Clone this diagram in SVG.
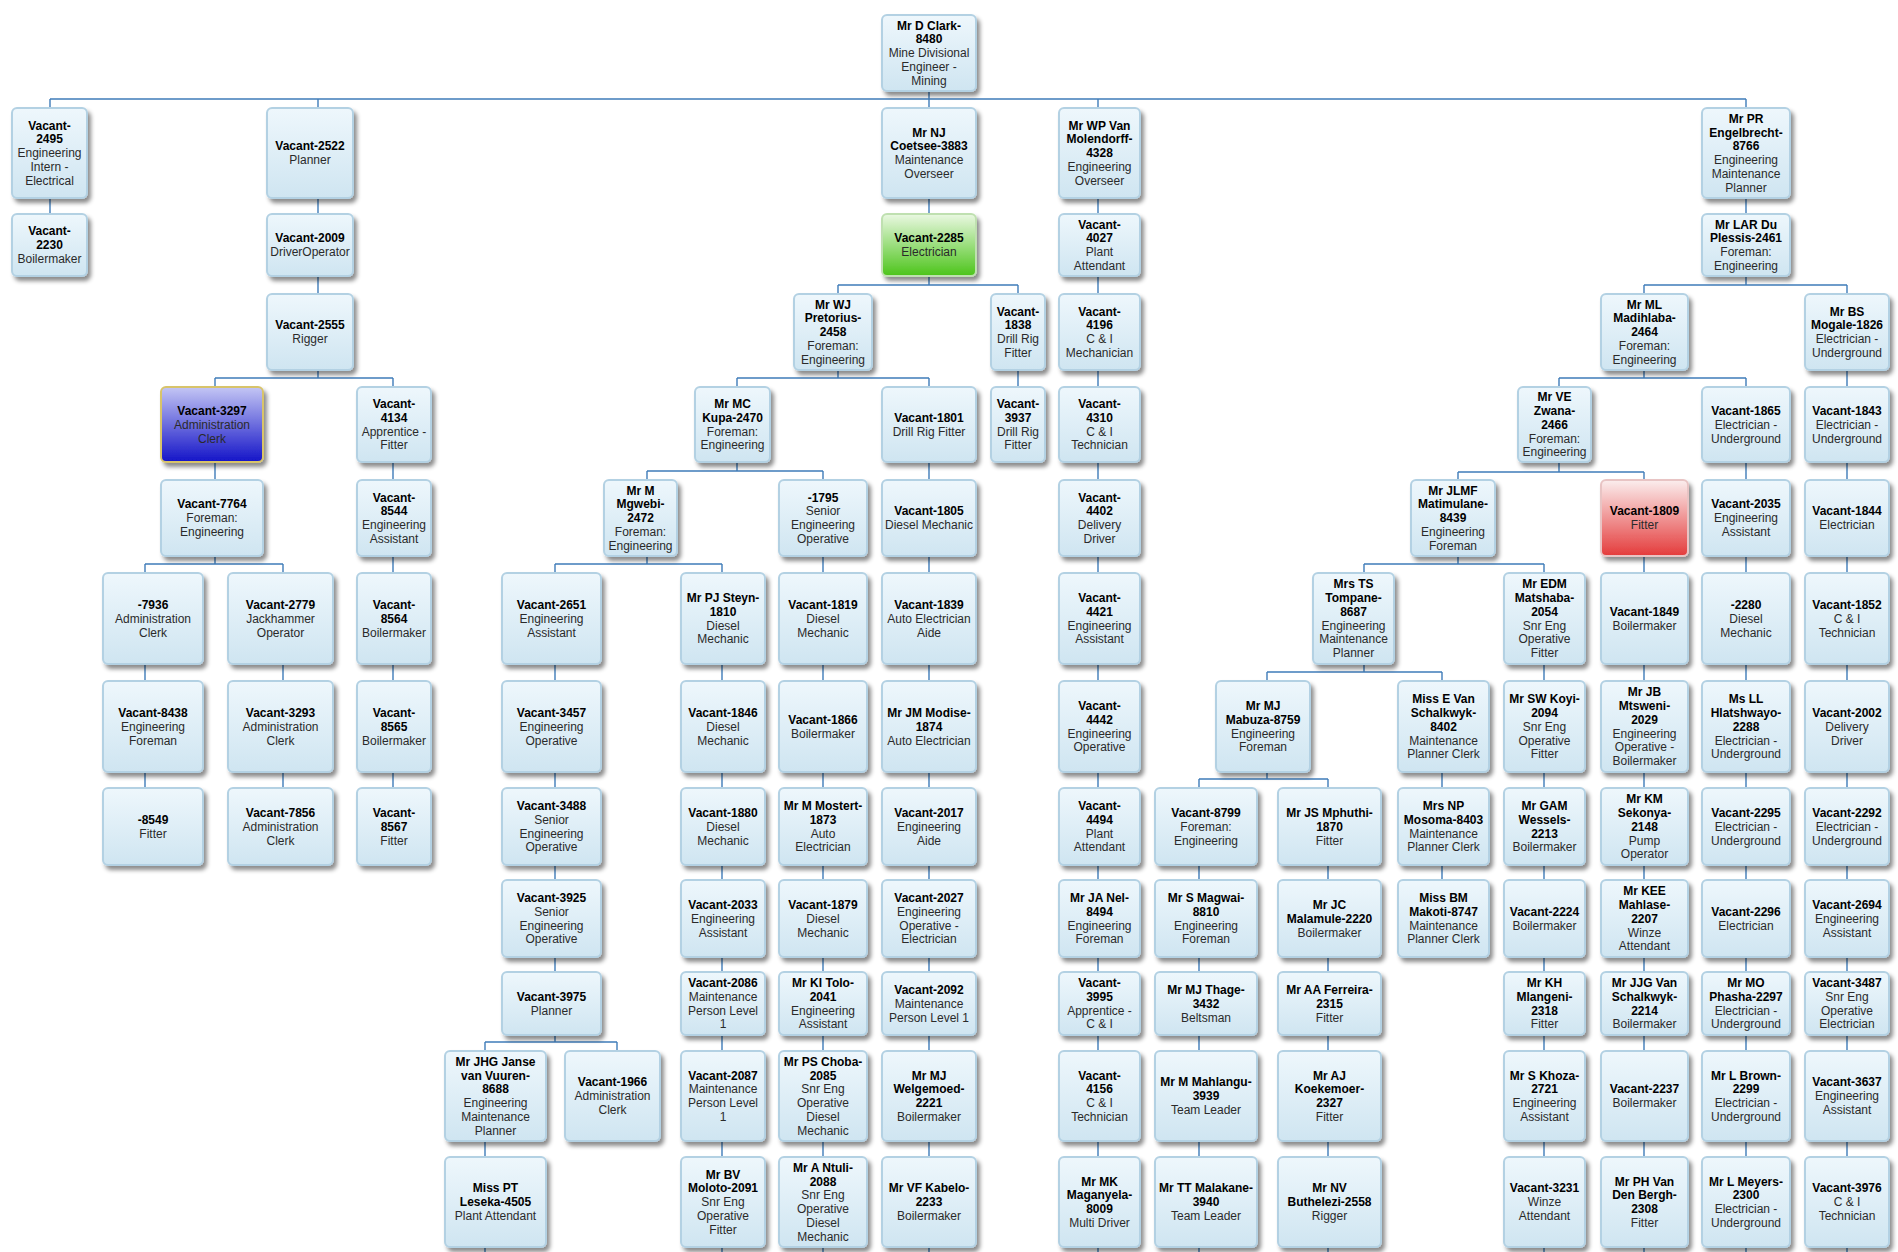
<svg xmlns="http://www.w3.org/2000/svg" width="1898" height="1252" viewBox="0 0 1898 1252">
<defs>
<linearGradient id="gb" x1="0" y1="0" x2="0" y2="1"><stop offset="0" stop-color="#eef7fc"/><stop offset="1" stop-color="#cfe5f1"/></linearGradient>
<linearGradient id="gblue" x1="0" y1="0" x2="0" y2="1"><stop offset="0" stop-color="#c4c6f4"/><stop offset="1" stop-color="#1414c8"/></linearGradient>
<linearGradient id="ggreen" x1="0" y1="0" x2="0" y2="1"><stop offset="0" stop-color="#eaf8e2"/><stop offset="1" stop-color="#4cc41a"/></linearGradient>
<linearGradient id="gred" x1="0" y1="0" x2="0" y2="1"><stop offset="0" stop-color="#fbeeee"/><stop offset="1" stop-color="#e43b3b"/></linearGradient>
<filter id="sh" x="-10%" y="-10%" width="130%" height="130%"><feDropShadow dx="3" dy="4" stdDeviation="2" flood-color="#000" flood-opacity="0.45"/></filter>
</defs>
<style>
.n rect{fill:url(#gb);stroke:#b3d1e3;stroke-width:2;filter:url(#sh)}
.n text{font-family:"Liberation Sans",Arial,sans-serif;font-size:12px;text-anchor:middle;fill:#2a2a2a}
.n .b{font-weight:bold;fill:#000}
#n3297 rect{fill:url(#gblue);stroke:#d8c46a}
#n2285 rect{fill:url(#ggreen);stroke:#bfe0b0}
#n1809 rect{fill:url(#gred);stroke:#e8c4c4}
.c path{stroke:#3f7cb9;stroke-width:1.4;fill:none}
</style>
<rect width="1898" height="1252" fill="#fff"/>
<g class="c"><path d="M929 92V99M50 99H1746M50 99V107M318 99V107M929 99V107M1098 99V107M1746 99V107M50 199V213M318 199V213M318 277V293M318 371V378M215 378H393M215 378V386M393 378V787M215 463V564M145 564H283M145 564V787M283 564V787M929 199V285M838 285H1018M838 285V293M1018 285V386M838 371V378M737 378H929M737 378V386M929 378V1156M737 463V471M647 471H823M647 471V479M823 471V1156M647 557V564M555 564H722M555 564V1042M722 564V1156M485 1042H617M485 1042V1156M617 1042V1050M1098 99V1156M1746 99V285M1644 285H1847M1644 285V293M1847 285V1156M1644 371V378M1559 378H1746M1559 378V386M1746 378V1156M1559 463V472M1458 472H1644M1458 472V479M1644 472V1156M1458 557V564M1364 564H1544M1364 564V572M1544 564V1156M1364 665V672M1267 672H1442M1267 672V680M1442 672V879M1267 773V779M1199 779H1328M1199 779V1156M1328 779V1156M485 1248V1252M722 1248V1252M823 1248V1252M929 1248V1252M1098 1248V1252M1199 1248V1252M1328 1248V1252M1544 1248V1252M1644 1248V1252M1746 1248V1252M1847 1248V1252"/></g>

<g id="n2495" class="n"><rect x="12" y="108" width="75" height="90" rx="5"/><text x="49.5" y="129.6"><tspan class="b">Vacant-</tspan><tspan class="b" x="49.5" dy="13.8">2495</tspan><tspan x="49.5" dy="13.8">Engineering</tspan><tspan x="49.5" dy="13.8">Intern -</tspan><tspan x="49.5" dy="13.8">Electrical</tspan></text></g>
<g id="n2230" class="n"><rect x="12" y="214" width="75" height="62" rx="5"/><text x="49.5" y="235.4"><tspan class="b">Vacant-</tspan><tspan class="b" x="49.5" dy="13.8">2230</tspan><tspan x="49.5" dy="13.8">Boilermaker</tspan></text></g>

<g id="n2522" class="n"><rect x="267" y="108" width="86" height="90" rx="5"/><text x="310" y="150.3"><tspan class="b">Vacant-2522</tspan><tspan x="310" dy="13.8">Planner</tspan></text></g>
<g id="n2009" class="n"><rect x="267" y="214" width="86" height="62" rx="5"/><text x="310" y="242.3"><tspan class="b">Vacant-2009</tspan><tspan x="310" dy="13.8">DriverOperator</tspan></text></g>
<g id="n2555" class="n"><rect x="267" y="294" width="86" height="76" rx="5"/><text x="310" y="329.3"><tspan class="b">Vacant-2555</tspan><tspan x="310" dy="13.8">Rigger</tspan></text></g>
<g id="n3297" class="n"><rect x="161" y="387" width="102" height="75" rx="5"/><text x="212" y="414.9"><tspan class="b">Vacant-3297</tspan><tspan x="212" dy="13.8">Administration</tspan><tspan x="212" dy="13.8">Clerk</tspan></text></g>
<g id="n4134" class="n"><rect x="357" y="387" width="74" height="75" rx="5"/><text x="394" y="408"><tspan class="b">Vacant-</tspan><tspan class="b" x="394" dy="13.8">4134</tspan><tspan x="394" dy="13.8">Apprentice -</tspan><tspan x="394" dy="13.8">Fitter</tspan></text></g>
<g id="n7764" class="n"><rect x="161" y="480" width="102" height="76" rx="5"/><text x="212" y="508.4"><tspan class="b">Vacant-7764</tspan><tspan x="212" dy="13.8">Foreman:</tspan><tspan x="212" dy="13.8">Engineering</tspan></text></g>
<g id="n8544" class="n"><rect x="357" y="480" width="74" height="76" rx="5"/><text x="394" y="501.5"><tspan class="b">Vacant-</tspan><tspan class="b" x="394" dy="13.8">8544</tspan><tspan x="394" dy="13.8">Engineering</tspan><tspan x="394" dy="13.8">Assistant</tspan></text></g>
<g id="n7936" class="n"><rect x="103" y="573" width="100" height="91" rx="5"/><text x="153" y="608.9"><tspan class="b">-7936</tspan><tspan x="153" dy="13.8">Administration</tspan><tspan x="153" dy="13.8">Clerk</tspan></text></g>
<g id="n2779" class="n"><rect x="228" y="573" width="105" height="91" rx="5"/><text x="280.5" y="608.9"><tspan class="b">Vacant-2779</tspan><tspan x="280.5" dy="13.8">Jackhammer</tspan><tspan x="280.5" dy="13.8">Operator</tspan></text></g>
<g id="n8564" class="n"><rect x="357" y="573" width="74" height="91" rx="5"/><text x="394" y="608.9"><tspan class="b">Vacant-</tspan><tspan class="b" x="394" dy="13.8">8564</tspan><tspan x="394" dy="13.8">Boilermaker</tspan></text></g>
<g id="n8438" class="n"><rect x="103" y="681" width="100" height="91" rx="5"/><text x="153" y="716.9"><tspan class="b">Vacant-8438</tspan><tspan x="153" dy="13.8">Engineering</tspan><tspan x="153" dy="13.8">Foreman</tspan></text></g>
<g id="n3293" class="n"><rect x="228" y="681" width="105" height="91" rx="5"/><text x="280.5" y="716.9"><tspan class="b">Vacant-3293</tspan><tspan x="280.5" dy="13.8">Administration</tspan><tspan x="280.5" dy="13.8">Clerk</tspan></text></g>
<g id="n8565" class="n"><rect x="357" y="681" width="74" height="91" rx="5"/><text x="394" y="716.9"><tspan class="b">Vacant-</tspan><tspan class="b" x="394" dy="13.8">8565</tspan><tspan x="394" dy="13.8">Boilermaker</tspan></text></g>
<g id="n8549" class="n"><rect x="103" y="788" width="100" height="77" rx="5"/><text x="153" y="823.8"><tspan class="b">-8549</tspan><tspan x="153" dy="13.8">Fitter</tspan></text></g>
<g id="n7856" class="n"><rect x="228" y="788" width="105" height="77" rx="5"/><text x="280.5" y="816.9"><tspan class="b">Vacant-7856</tspan><tspan x="280.5" dy="13.8">Administration</tspan><tspan x="280.5" dy="13.8">Clerk</tspan></text></g>
<g id="n8567" class="n"><rect x="357" y="788" width="74" height="77" rx="5"/><text x="394" y="816.9"><tspan class="b">Vacant-</tspan><tspan class="b" x="394" dy="13.8">8567</tspan><tspan x="394" dy="13.8">Fitter</tspan></text></g>

<g id="n8480" class="n"><rect x="882" y="15" width="94" height="76" rx="5"/><text x="929" y="29.6"><tspan class="b">Mr D Clark-</tspan><tspan class="b" x="929" dy="13.8">8480</tspan><tspan x="929" dy="13.8">Mine Divisional</tspan><tspan x="929" dy="13.8">Engineer -</tspan><tspan x="929" dy="13.8">Mining</tspan></text></g>
<g id="n3883" class="n"><rect x="882" y="108" width="94" height="90" rx="5"/><text x="929" y="136.5"><tspan class="b">Mr NJ</tspan><tspan class="b" x="929" dy="13.8">Coetsee-3883</tspan><tspan x="929" dy="13.8">Maintenance</tspan><tspan x="929" dy="13.8">Overseer</tspan></text></g>
<g id="n2285" class="n"><rect x="882" y="214" width="94" height="62" rx="5"/><text x="929" y="242.3"><tspan class="b">Vacant-2285</tspan><tspan x="929" dy="13.8">Electrician</tspan></text></g>
<g id="n2458" class="n"><rect x="794" y="294" width="78" height="76" rx="5"/><text x="833" y="308.6"><tspan class="b">Mr WJ</tspan><tspan class="b" x="833" dy="13.8">Pretorius-</tspan><tspan class="b" x="833" dy="13.8">2458</tspan><tspan x="833" dy="13.8">Foreman:</tspan><tspan x="833" dy="13.8">Engineering</tspan></text></g>
<g id="n1838" class="n"><rect x="991" y="294" width="54" height="76" rx="5"/><text x="1018" y="315.5"><tspan class="b">Vacant-</tspan><tspan class="b" x="1018" dy="13.8">1838</tspan><tspan x="1018" dy="13.8">Drill Rig</tspan><tspan x="1018" dy="13.8">Fitter</tspan></text></g>
<g id="n2470" class="n"><rect x="695" y="387" width="75" height="75" rx="5"/><text x="732.5" y="408"><tspan class="b">Mr MC</tspan><tspan class="b" x="732.5" dy="13.8">Kupa-2470</tspan><tspan x="732.5" dy="13.8">Foreman:</tspan><tspan x="732.5" dy="13.8">Engineering</tspan></text></g>
<g id="n1801" class="n"><rect x="882" y="387" width="94" height="75" rx="5"/><text x="929" y="421.8"><tspan class="b">Vacant-1801</tspan><tspan x="929" dy="13.8">Drill Rig Fitter</tspan></text></g>
<g id="n3937" class="n"><rect x="991" y="387" width="54" height="75" rx="5"/><text x="1018" y="408"><tspan class="b">Vacant-</tspan><tspan class="b" x="1018" dy="13.8">3937</tspan><tspan x="1018" dy="13.8">Drill Rig</tspan><tspan x="1018" dy="13.8">Fitter</tspan></text></g>
<g id="n2472" class="n"><rect x="604" y="480" width="73" height="76" rx="5"/><text x="640.5" y="494.6"><tspan class="b">Mr M</tspan><tspan class="b" x="640.5" dy="13.8">Mgwebi-</tspan><tspan class="b" x="640.5" dy="13.8">2472</tspan><tspan x="640.5" dy="13.8">Foreman:</tspan><tspan x="640.5" dy="13.8">Engineering</tspan></text></g>
<g id="n1795" class="n"><rect x="779" y="480" width="88" height="76" rx="5"/><text x="823" y="501.5"><tspan class="b">-1795</tspan><tspan x="823" dy="13.8">Senior</tspan><tspan x="823" dy="13.8">Engineering</tspan><tspan x="823" dy="13.8">Operative</tspan></text></g>
<g id="n1805" class="n"><rect x="882" y="480" width="94" height="76" rx="5"/><text x="929" y="515.3"><tspan class="b">Vacant-1805</tspan><tspan x="929" dy="13.8">Diesel Mechanic</tspan></text></g>
<g id="n2651" class="n"><rect x="502" y="573" width="99" height="91" rx="5"/><text x="551.5" y="608.9"><tspan class="b">Vacant-2651</tspan><tspan x="551.5" dy="13.8">Engineering</tspan><tspan x="551.5" dy="13.8">Assistant</tspan></text></g>
<g id="n1810" class="n"><rect x="681" y="573" width="84" height="91" rx="5"/><text x="723" y="602"><tspan class="b">Mr PJ Steyn-</tspan><tspan class="b" x="723" dy="13.8">1810</tspan><tspan x="723" dy="13.8">Diesel</tspan><tspan x="723" dy="13.8">Mechanic</tspan></text></g>
<g id="n1819" class="n"><rect x="779" y="573" width="88" height="91" rx="5"/><text x="823" y="608.9"><tspan class="b">Vacant-1819</tspan><tspan x="823" dy="13.8">Diesel</tspan><tspan x="823" dy="13.8">Mechanic</tspan></text></g>
<g id="n1839" class="n"><rect x="882" y="573" width="94" height="91" rx="5"/><text x="929" y="608.9"><tspan class="b">Vacant-1839</tspan><tspan x="929" dy="13.8">Auto Electrician</tspan><tspan x="929" dy="13.8">Aide</tspan></text></g>
<g id="n3457" class="n"><rect x="502" y="681" width="99" height="91" rx="5"/><text x="551.5" y="716.9"><tspan class="b">Vacant-3457</tspan><tspan x="551.5" dy="13.8">Engineering</tspan><tspan x="551.5" dy="13.8">Operative</tspan></text></g>
<g id="n1846" class="n"><rect x="681" y="681" width="84" height="91" rx="5"/><text x="723" y="716.9"><tspan class="b">Vacant-1846</tspan><tspan x="723" dy="13.8">Diesel</tspan><tspan x="723" dy="13.8">Mechanic</tspan></text></g>
<g id="n1866" class="n"><rect x="779" y="681" width="88" height="91" rx="5"/><text x="823" y="723.8"><tspan class="b">Vacant-1866</tspan><tspan x="823" dy="13.8">Boilermaker</tspan></text></g>
<g id="n1874" class="n"><rect x="882" y="681" width="94" height="91" rx="5"/><text x="929" y="716.9"><tspan class="b">Mr JM Modise-</tspan><tspan class="b" x="929" dy="13.8">1874</tspan><tspan x="929" dy="13.8">Auto Electrician</tspan></text></g>
<g id="n3488" class="n"><rect x="502" y="788" width="99" height="77" rx="5"/><text x="551.5" y="810"><tspan class="b">Vacant-3488</tspan><tspan x="551.5" dy="13.8">Senior</tspan><tspan x="551.5" dy="13.8">Engineering</tspan><tspan x="551.5" dy="13.8">Operative</tspan></text></g>
<g id="n1880" class="n"><rect x="681" y="788" width="84" height="77" rx="5"/><text x="723" y="816.9"><tspan class="b">Vacant-1880</tspan><tspan x="723" dy="13.8">Diesel</tspan><tspan x="723" dy="13.8">Mechanic</tspan></text></g>
<g id="n1873" class="n"><rect x="779" y="788" width="88" height="77" rx="5"/><text x="823" y="810"><tspan class="b">Mr M Mostert-</tspan><tspan class="b" x="823" dy="13.8">1873</tspan><tspan x="823" dy="13.8">Auto</tspan><tspan x="823" dy="13.8">Electrician</tspan></text></g>
<g id="n2017" class="n"><rect x="882" y="788" width="94" height="77" rx="5"/><text x="929" y="816.9"><tspan class="b">Vacant-2017</tspan><tspan x="929" dy="13.8">Engineering</tspan><tspan x="929" dy="13.8">Aide</tspan></text></g>
<g id="n3925" class="n"><rect x="502" y="880" width="99" height="77" rx="5"/><text x="551.5" y="902"><tspan class="b">Vacant-3925</tspan><tspan x="551.5" dy="13.8">Senior</tspan><tspan x="551.5" dy="13.8">Engineering</tspan><tspan x="551.5" dy="13.8">Operative</tspan></text></g>
<g id="n2033" class="n"><rect x="681" y="880" width="84" height="77" rx="5"/><text x="723" y="908.9"><tspan class="b">Vacant-2033</tspan><tspan x="723" dy="13.8">Engineering</tspan><tspan x="723" dy="13.8">Assistant</tspan></text></g>
<g id="n1879" class="n"><rect x="779" y="880" width="88" height="77" rx="5"/><text x="823" y="908.9"><tspan class="b">Vacant-1879</tspan><tspan x="823" dy="13.8">Diesel</tspan><tspan x="823" dy="13.8">Mechanic</tspan></text></g>
<g id="n2027" class="n"><rect x="882" y="880" width="94" height="77" rx="5"/><text x="929" y="902"><tspan class="b">Vacant-2027</tspan><tspan x="929" dy="13.8">Engineering</tspan><tspan x="929" dy="13.8">Operative -</tspan><tspan x="929" dy="13.8">Electrician</tspan></text></g>
<g id="n3975" class="n"><rect x="502" y="972" width="99" height="63" rx="5"/><text x="551.5" y="1000.8"><tspan class="b">Vacant-3975</tspan><tspan x="551.5" dy="13.8">Planner</tspan></text></g>
<g id="n2086" class="n"><rect x="681" y="972" width="84" height="63" rx="5"/><text x="723" y="987"><tspan class="b">Vacant-2086</tspan><tspan x="723" dy="13.8">Maintenance</tspan><tspan x="723" dy="13.8">Person Level</tspan><tspan x="723" dy="13.8">1</tspan></text></g>
<g id="n2041" class="n"><rect x="779" y="972" width="88" height="63" rx="5"/><text x="823" y="987"><tspan class="b">Mr KI Tolo-</tspan><tspan class="b" x="823" dy="13.8">2041</tspan><tspan x="823" dy="13.8">Engineering</tspan><tspan x="823" dy="13.8">Assistant</tspan></text></g>
<g id="n2092" class="n"><rect x="882" y="972" width="94" height="63" rx="5"/><text x="929" y="993.9"><tspan class="b">Vacant-2092</tspan><tspan x="929" dy="13.8">Maintenance</tspan><tspan x="929" dy="13.8">Person Level 1</tspan></text></g>
<g id="n8688" class="n"><rect x="445" y="1051" width="101" height="90" rx="5"/><text x="495.5" y="1065.7"><tspan class="b">Mr JHG Janse</tspan><tspan class="b" x="495.5" dy="13.8">van Vuuren-</tspan><tspan class="b" x="495.5" dy="13.8">8688</tspan><tspan x="495.5" dy="13.8">Engineering</tspan><tspan x="495.5" dy="13.8">Maintenance</tspan><tspan x="495.5" dy="13.8">Planner</tspan></text></g>
<g id="n1966" class="n"><rect x="565" y="1051" width="95" height="90" rx="5"/><text x="612.5" y="1086.4"><tspan class="b">Vacant-1966</tspan><tspan x="612.5" dy="13.8">Administration</tspan><tspan x="612.5" dy="13.8">Clerk</tspan></text></g>
<g id="n2087" class="n"><rect x="681" y="1051" width="84" height="90" rx="5"/><text x="723" y="1079.5"><tspan class="b">Vacant-2087</tspan><tspan x="723" dy="13.8">Maintenance</tspan><tspan x="723" dy="13.8">Person Level</tspan><tspan x="723" dy="13.8">1</tspan></text></g>
<g id="n2085" class="n"><rect x="779" y="1051" width="88" height="90" rx="5"/><text x="823" y="1065.7"><tspan class="b">Mr PS Choba-</tspan><tspan class="b" x="823" dy="13.8">2085</tspan><tspan x="823" dy="13.8">Snr Eng</tspan><tspan x="823" dy="13.8">Operative</tspan><tspan x="823" dy="13.8">Diesel</tspan><tspan x="823" dy="13.8">Mechanic</tspan></text></g>
<g id="n2221" class="n"><rect x="882" y="1051" width="94" height="90" rx="5"/><text x="929" y="1079.5"><tspan class="b">Mr MJ</tspan><tspan class="b" x="929" dy="13.8">Welgemoed-</tspan><tspan class="b" x="929" dy="13.8">2221</tspan><tspan x="929" dy="13.8">Boilermaker</tspan></text></g>
<g id="n4505" class="n"><rect x="445" y="1157" width="101" height="90" rx="5"/><text x="495.5" y="1192.4"><tspan class="b">Miss PT</tspan><tspan class="b" x="495.5" dy="13.8">Leseka-4505</tspan><tspan x="495.5" dy="13.8">Plant Attendant</tspan></text></g>
<g id="n2091" class="n"><rect x="681" y="1157" width="84" height="90" rx="5"/><text x="723" y="1178.6"><tspan class="b">Mr BV</tspan><tspan class="b" x="723" dy="13.8">Moloto-2091</tspan><tspan x="723" dy="13.8">Snr Eng</tspan><tspan x="723" dy="13.8">Operative</tspan><tspan x="723" dy="13.8">Fitter</tspan></text></g>
<g id="n2088" class="n"><rect x="779" y="1157" width="88" height="90" rx="5"/><text x="823" y="1171.7"><tspan class="b">Mr A Ntuli-</tspan><tspan class="b" x="823" dy="13.8">2088</tspan><tspan x="823" dy="13.8">Snr Eng</tspan><tspan x="823" dy="13.8">Operative</tspan><tspan x="823" dy="13.8">Diesel</tspan><tspan x="823" dy="13.8">Mechanic</tspan></text></g>
<g id="n2233" class="n"><rect x="882" y="1157" width="94" height="90" rx="5"/><text x="929" y="1192.4"><tspan class="b">Mr VF Kabelo-</tspan><tspan class="b" x="929" dy="13.8">2233</tspan><tspan x="929" dy="13.8">Boilermaker</tspan></text></g>

<g id="n4328" class="n"><rect x="1059" y="108" width="81" height="90" rx="5"/><text x="1099.5" y="129.6"><tspan class="b">Mr WP Van</tspan><tspan class="b" x="1099.5" dy="13.8">Molendorff-</tspan><tspan class="b" x="1099.5" dy="13.8">4328</tspan><tspan x="1099.5" dy="13.8">Engineering</tspan><tspan x="1099.5" dy="13.8">Overseer</tspan></text></g>
<g id="n4027" class="n"><rect x="1059" y="214" width="81" height="62" rx="5"/><text x="1099.5" y="228.5"><tspan class="b">Vacant-</tspan><tspan class="b" x="1099.5" dy="13.8">4027</tspan><tspan x="1099.5" dy="13.8">Plant</tspan><tspan x="1099.5" dy="13.8">Attendant</tspan></text></g>
<g id="n4196" class="n"><rect x="1059" y="294" width="81" height="76" rx="5"/><text x="1099.5" y="315.5"><tspan class="b">Vacant-</tspan><tspan class="b" x="1099.5" dy="13.8">4196</tspan><tspan x="1099.5" dy="13.8">C &amp; I</tspan><tspan x="1099.5" dy="13.8">Mechanician</tspan></text></g>
<g id="n4310" class="n"><rect x="1059" y="387" width="81" height="75" rx="5"/><text x="1099.5" y="408"><tspan class="b">Vacant-</tspan><tspan class="b" x="1099.5" dy="13.8">4310</tspan><tspan x="1099.5" dy="13.8">C &amp; I</tspan><tspan x="1099.5" dy="13.8">Technician</tspan></text></g>
<g id="n4402" class="n"><rect x="1059" y="480" width="81" height="76" rx="5"/><text x="1099.5" y="501.5"><tspan class="b">Vacant-</tspan><tspan class="b" x="1099.5" dy="13.8">4402</tspan><tspan x="1099.5" dy="13.8">Delivery</tspan><tspan x="1099.5" dy="13.8">Driver</tspan></text></g>
<g id="n4421" class="n"><rect x="1059" y="573" width="81" height="91" rx="5"/><text x="1099.5" y="602"><tspan class="b">Vacant-</tspan><tspan class="b" x="1099.5" dy="13.8">4421</tspan><tspan x="1099.5" dy="13.8">Engineering</tspan><tspan x="1099.5" dy="13.8">Assistant</tspan></text></g>
<g id="n4442" class="n"><rect x="1059" y="681" width="81" height="91" rx="5"/><text x="1099.5" y="710"><tspan class="b">Vacant-</tspan><tspan class="b" x="1099.5" dy="13.8">4442</tspan><tspan x="1099.5" dy="13.8">Engineering</tspan><tspan x="1099.5" dy="13.8">Operative</tspan></text></g>
<g id="n4494" class="n"><rect x="1059" y="788" width="81" height="77" rx="5"/><text x="1099.5" y="810"><tspan class="b">Vacant-</tspan><tspan class="b" x="1099.5" dy="13.8">4494</tspan><tspan x="1099.5" dy="13.8">Plant</tspan><tspan x="1099.5" dy="13.8">Attendant</tspan></text></g>
<g id="n8494" class="n"><rect x="1059" y="880" width="81" height="77" rx="5"/><text x="1099.5" y="902"><tspan class="b">Mr JA Nel-</tspan><tspan class="b" x="1099.5" dy="13.8">8494</tspan><tspan x="1099.5" dy="13.8">Engineering</tspan><tspan x="1099.5" dy="13.8">Foreman</tspan></text></g>
<g id="n3995" class="n"><rect x="1059" y="972" width="81" height="63" rx="5"/><text x="1099.5" y="987"><tspan class="b">Vacant-</tspan><tspan class="b" x="1099.5" dy="13.8">3995</tspan><tspan x="1099.5" dy="13.8">Apprentice -</tspan><tspan x="1099.5" dy="13.8">C &amp; I</tspan></text></g>
<g id="n4156" class="n"><rect x="1059" y="1051" width="81" height="90" rx="5"/><text x="1099.5" y="1079.5"><tspan class="b">Vacant-</tspan><tspan class="b" x="1099.5" dy="13.8">4156</tspan><tspan x="1099.5" dy="13.8">C &amp; I</tspan><tspan x="1099.5" dy="13.8">Technician</tspan></text></g>
<g id="n8009" class="n"><rect x="1059" y="1157" width="81" height="90" rx="5"/><text x="1099.5" y="1185.5"><tspan class="b">Mr MK</tspan><tspan class="b" x="1099.5" dy="13.8">Maganyela-</tspan><tspan class="b" x="1099.5" dy="13.8">8009</tspan><tspan x="1099.5" dy="13.8">Multi Driver</tspan></text></g>

<g id="n8766" class="n"><rect x="1702" y="108" width="88" height="90" rx="5"/><text x="1746" y="122.7"><tspan class="b">Mr PR</tspan><tspan class="b" x="1746" dy="13.8">Engelbrecht-</tspan><tspan class="b" x="1746" dy="13.8">8766</tspan><tspan x="1746" dy="13.8">Engineering</tspan><tspan x="1746" dy="13.8">Maintenance</tspan><tspan x="1746" dy="13.8">Planner</tspan></text></g>
<g id="n2461" class="n"><rect x="1702" y="214" width="88" height="62" rx="5"/><text x="1746" y="228.5"><tspan class="b">Mr LAR Du</tspan><tspan class="b" x="1746" dy="13.8">Plessis-2461</tspan><tspan x="1746" dy="13.8">Foreman:</tspan><tspan x="1746" dy="13.8">Engineering</tspan></text></g>
<g id="n2464" class="n"><rect x="1601" y="294" width="87" height="76" rx="5"/><text x="1644.5" y="308.6"><tspan class="b">Mr ML</tspan><tspan class="b" x="1644.5" dy="13.8">Madihlaba-</tspan><tspan class="b" x="1644.5" dy="13.8">2464</tspan><tspan x="1644.5" dy="13.8">Foreman:</tspan><tspan x="1644.5" dy="13.8">Engineering</tspan></text></g>
<g id="n1826" class="n"><rect x="1805" y="294" width="84" height="76" rx="5"/><text x="1847" y="315.5"><tspan class="b">Mr BS</tspan><tspan class="b" x="1847" dy="13.8">Mogale-1826</tspan><tspan x="1847" dy="13.8">Electrician -</tspan><tspan x="1847" dy="13.8">Underground</tspan></text></g>
<g id="n2466" class="n"><rect x="1518" y="387" width="73" height="75" rx="5"/><text x="1554.5" y="401.1"><tspan class="b">Mr VE</tspan><tspan class="b" x="1554.5" dy="13.8">Zwana-</tspan><tspan class="b" x="1554.5" dy="13.8">2466</tspan><tspan x="1554.5" dy="13.8">Foreman:</tspan><tspan x="1554.5" dy="13.8">Engineering</tspan></text></g>
<g id="n1865" class="n"><rect x="1702" y="387" width="88" height="75" rx="5"/><text x="1746" y="414.9"><tspan class="b">Vacant-1865</tspan><tspan x="1746" dy="13.8">Electrician -</tspan><tspan x="1746" dy="13.8">Underground</tspan></text></g>
<g id="n1843" class="n"><rect x="1805" y="387" width="84" height="75" rx="5"/><text x="1847" y="414.9"><tspan class="b">Vacant-1843</tspan><tspan x="1847" dy="13.8">Electrician -</tspan><tspan x="1847" dy="13.8">Underground</tspan></text></g>
<g id="n8439" class="n"><rect x="1411" y="480" width="84" height="76" rx="5"/><text x="1453" y="494.6"><tspan class="b">Mr JLMF</tspan><tspan class="b" x="1453" dy="13.8">Matimulane-</tspan><tspan class="b" x="1453" dy="13.8">8439</tspan><tspan x="1453" dy="13.8">Engineering</tspan><tspan x="1453" dy="13.8">Foreman</tspan></text></g>
<g id="n1809" class="n"><rect x="1601" y="480" width="87" height="76" rx="5"/><text x="1644.5" y="515.3"><tspan class="b">Vacant-1809</tspan><tspan x="1644.5" dy="13.8">Fitter</tspan></text></g>
<g id="n2035" class="n"><rect x="1702" y="480" width="88" height="76" rx="5"/><text x="1746" y="508.4"><tspan class="b">Vacant-2035</tspan><tspan x="1746" dy="13.8">Engineering</tspan><tspan x="1746" dy="13.8">Assistant</tspan></text></g>
<g id="n1844" class="n"><rect x="1805" y="480" width="84" height="76" rx="5"/><text x="1847" y="515.3"><tspan class="b">Vacant-1844</tspan><tspan x="1847" dy="13.8">Electrician</tspan></text></g>
<g id="n8687" class="n"><rect x="1313" y="573" width="81" height="91" rx="5"/><text x="1353.5" y="588.2"><tspan class="b">Mrs TS</tspan><tspan class="b" x="1353.5" dy="13.8">Tompane-</tspan><tspan class="b" x="1353.5" dy="13.8">8687</tspan><tspan x="1353.5" dy="13.8">Engineering</tspan><tspan x="1353.5" dy="13.8">Maintenance</tspan><tspan x="1353.5" dy="13.8">Planner</tspan></text></g>
<g id="n2054" class="n"><rect x="1504" y="573" width="81" height="91" rx="5"/><text x="1544.5" y="588.2"><tspan class="b">Mr EDM</tspan><tspan class="b" x="1544.5" dy="13.8">Matshaba-</tspan><tspan class="b" x="1544.5" dy="13.8">2054</tspan><tspan x="1544.5" dy="13.8">Snr Eng</tspan><tspan x="1544.5" dy="13.8">Operative</tspan><tspan x="1544.5" dy="13.8">Fitter</tspan></text></g>
<g id="n1849" class="n"><rect x="1601" y="573" width="87" height="91" rx="5"/><text x="1644.5" y="615.8"><tspan class="b">Vacant-1849</tspan><tspan x="1644.5" dy="13.8">Boilermaker</tspan></text></g>
<g id="n2280" class="n"><rect x="1702" y="573" width="88" height="91" rx="5"/><text x="1746" y="608.9"><tspan class="b">-2280</tspan><tspan x="1746" dy="13.8">Diesel</tspan><tspan x="1746" dy="13.8">Mechanic</tspan></text></g>
<g id="n1852" class="n"><rect x="1805" y="573" width="84" height="91" rx="5"/><text x="1847" y="608.9"><tspan class="b">Vacant-1852</tspan><tspan x="1847" dy="13.8">C &amp; I</tspan><tspan x="1847" dy="13.8">Technician</tspan></text></g>
<g id="n8759" class="n"><rect x="1216" y="681" width="94" height="91" rx="5"/><text x="1263" y="710"><tspan class="b">Mr MJ</tspan><tspan class="b" x="1263" dy="13.8">Mabuza-8759</tspan><tspan x="1263" dy="13.8">Engineering</tspan><tspan x="1263" dy="13.8">Foreman</tspan></text></g>
<g id="n8402" class="n"><rect x="1398" y="681" width="91" height="91" rx="5"/><text x="1443.5" y="703.1"><tspan class="b">Miss E Van</tspan><tspan class="b" x="1443.5" dy="13.8">Schalkwyk-</tspan><tspan class="b" x="1443.5" dy="13.8">8402</tspan><tspan x="1443.5" dy="13.8">Maintenance</tspan><tspan x="1443.5" dy="13.8">Planner Clerk</tspan></text></g>
<g id="n2094" class="n"><rect x="1504" y="681" width="81" height="91" rx="5"/><text x="1544.5" y="703.1"><tspan class="b">Mr SW Koyi-</tspan><tspan class="b" x="1544.5" dy="13.8">2094</tspan><tspan x="1544.5" dy="13.8">Snr Eng</tspan><tspan x="1544.5" dy="13.8">Operative</tspan><tspan x="1544.5" dy="13.8">Fitter</tspan></text></g>
<g id="n2029" class="n"><rect x="1601" y="681" width="87" height="91" rx="5"/><text x="1644.5" y="696.2"><tspan class="b">Mr JB</tspan><tspan class="b" x="1644.5" dy="13.8">Mtsweni-</tspan><tspan class="b" x="1644.5" dy="13.8">2029</tspan><tspan x="1644.5" dy="13.8">Engineering</tspan><tspan x="1644.5" dy="13.8">Operative -</tspan><tspan x="1644.5" dy="13.8">Boilermaker</tspan></text></g>
<g id="n2288" class="n"><rect x="1702" y="681" width="88" height="91" rx="5"/><text x="1746" y="703.1"><tspan class="b">Ms LL</tspan><tspan class="b" x="1746" dy="13.8">Hlatshwayo-</tspan><tspan class="b" x="1746" dy="13.8">2288</tspan><tspan x="1746" dy="13.8">Electrician -</tspan><tspan x="1746" dy="13.8">Underground</tspan></text></g>
<g id="n2002" class="n"><rect x="1805" y="681" width="84" height="91" rx="5"/><text x="1847" y="716.9"><tspan class="b">Vacant-2002</tspan><tspan x="1847" dy="13.8">Delivery</tspan><tspan x="1847" dy="13.8">Driver</tspan></text></g>
<g id="n8799" class="n"><rect x="1155" y="788" width="102" height="77" rx="5"/><text x="1206" y="816.9"><tspan class="b">Vacant-8799</tspan><tspan x="1206" dy="13.8">Foreman:</tspan><tspan x="1206" dy="13.8">Engineering</tspan></text></g>
<g id="n1870" class="n"><rect x="1278" y="788" width="103" height="77" rx="5"/><text x="1329.5" y="816.9"><tspan class="b">Mr JS Mphuthi-</tspan><tspan class="b" x="1329.5" dy="13.8">1870</tspan><tspan x="1329.5" dy="13.8">Fitter</tspan></text></g>
<g id="n8403" class="n"><rect x="1398" y="788" width="91" height="77" rx="5"/><text x="1443.5" y="810"><tspan class="b">Mrs NP</tspan><tspan class="b" x="1443.5" dy="13.8">Mosoma-8403</tspan><tspan x="1443.5" dy="13.8">Maintenance</tspan><tspan x="1443.5" dy="13.8">Planner Clerk</tspan></text></g>
<g id="n2213" class="n"><rect x="1504" y="788" width="81" height="77" rx="5"/><text x="1544.5" y="810"><tspan class="b">Mr GAM</tspan><tspan class="b" x="1544.5" dy="13.8">Wessels-</tspan><tspan class="b" x="1544.5" dy="13.8">2213</tspan><tspan x="1544.5" dy="13.8">Boilermaker</tspan></text></g>
<g id="n2148" class="n"><rect x="1601" y="788" width="87" height="77" rx="5"/><text x="1644.5" y="803.1"><tspan class="b">Mr KM</tspan><tspan class="b" x="1644.5" dy="13.8">Sekonya-</tspan><tspan class="b" x="1644.5" dy="13.8">2148</tspan><tspan x="1644.5" dy="13.8">Pump</tspan><tspan x="1644.5" dy="13.8">Operator</tspan></text></g>
<g id="n2295" class="n"><rect x="1702" y="788" width="88" height="77" rx="5"/><text x="1746" y="816.9"><tspan class="b">Vacant-2295</tspan><tspan x="1746" dy="13.8">Electrician -</tspan><tspan x="1746" dy="13.8">Underground</tspan></text></g>
<g id="n2292" class="n"><rect x="1805" y="788" width="84" height="77" rx="5"/><text x="1847" y="816.9"><tspan class="b">Vacant-2292</tspan><tspan x="1847" dy="13.8">Electrician -</tspan><tspan x="1847" dy="13.8">Underground</tspan></text></g>
<g id="n8810" class="n"><rect x="1155" y="880" width="102" height="77" rx="5"/><text x="1206" y="902"><tspan class="b">Mr S Magwai-</tspan><tspan class="b" x="1206" dy="13.8">8810</tspan><tspan x="1206" dy="13.8">Engineering</tspan><tspan x="1206" dy="13.8">Foreman</tspan></text></g>
<g id="n2220" class="n"><rect x="1278" y="880" width="103" height="77" rx="5"/><text x="1329.5" y="908.9"><tspan class="b">Mr JC</tspan><tspan class="b" x="1329.5" dy="13.8">Malamule-2220</tspan><tspan x="1329.5" dy="13.8">Boilermaker</tspan></text></g>
<g id="n8747" class="n"><rect x="1398" y="880" width="91" height="77" rx="5"/><text x="1443.5" y="902"><tspan class="b">Miss BM</tspan><tspan class="b" x="1443.5" dy="13.8">Makoti-8747</tspan><tspan x="1443.5" dy="13.8">Maintenance</tspan><tspan x="1443.5" dy="13.8">Planner Clerk</tspan></text></g>
<g id="n2224" class="n"><rect x="1504" y="880" width="81" height="77" rx="5"/><text x="1544.5" y="915.8"><tspan class="b">Vacant-2224</tspan><tspan x="1544.5" dy="13.8">Boilermaker</tspan></text></g>
<g id="n2207" class="n"><rect x="1601" y="880" width="87" height="77" rx="5"/><text x="1644.5" y="895.1"><tspan class="b">Mr KEE</tspan><tspan class="b" x="1644.5" dy="13.8">Mahlase-</tspan><tspan class="b" x="1644.5" dy="13.8">2207</tspan><tspan x="1644.5" dy="13.8">Winze</tspan><tspan x="1644.5" dy="13.8">Attendant</tspan></text></g>
<g id="n2296" class="n"><rect x="1702" y="880" width="88" height="77" rx="5"/><text x="1746" y="915.8"><tspan class="b">Vacant-2296</tspan><tspan x="1746" dy="13.8">Electrician</tspan></text></g>
<g id="n2694" class="n"><rect x="1805" y="880" width="84" height="77" rx="5"/><text x="1847" y="908.9"><tspan class="b">Vacant-2694</tspan><tspan x="1847" dy="13.8">Engineering</tspan><tspan x="1847" dy="13.8">Assistant</tspan></text></g>
<g id="n3432" class="n"><rect x="1155" y="972" width="102" height="63" rx="5"/><text x="1206" y="993.9"><tspan class="b">Mr MJ Thage-</tspan><tspan class="b" x="1206" dy="13.8">3432</tspan><tspan x="1206" dy="13.8">Beltsman</tspan></text></g>
<g id="n2315" class="n"><rect x="1278" y="972" width="103" height="63" rx="5"/><text x="1329.5" y="993.9"><tspan class="b">Mr AA Ferreira-</tspan><tspan class="b" x="1329.5" dy="13.8">2315</tspan><tspan x="1329.5" dy="13.8">Fitter</tspan></text></g>
<g id="n2318" class="n"><rect x="1504" y="972" width="81" height="63" rx="5"/><text x="1544.5" y="987"><tspan class="b">Mr KH</tspan><tspan class="b" x="1544.5" dy="13.8">Mlangeni-</tspan><tspan class="b" x="1544.5" dy="13.8">2318</tspan><tspan x="1544.5" dy="13.8">Fitter</tspan></text></g>
<g id="n2214" class="n"><rect x="1601" y="972" width="87" height="63" rx="5"/><text x="1644.5" y="987"><tspan class="b">Mr JJG Van</tspan><tspan class="b" x="1644.5" dy="13.8">Schalkwyk-</tspan><tspan class="b" x="1644.5" dy="13.8">2214</tspan><tspan x="1644.5" dy="13.8">Boilermaker</tspan></text></g>
<g id="n2297" class="n"><rect x="1702" y="972" width="88" height="63" rx="5"/><text x="1746" y="987"><tspan class="b">Mr MO</tspan><tspan class="b" x="1746" dy="13.8">Phasha-2297</tspan><tspan x="1746" dy="13.8">Electrician -</tspan><tspan x="1746" dy="13.8">Underground</tspan></text></g>
<g id="n3487" class="n"><rect x="1805" y="972" width="84" height="63" rx="5"/><text x="1847" y="987"><tspan class="b">Vacant-3487</tspan><tspan x="1847" dy="13.8">Snr Eng</tspan><tspan x="1847" dy="13.8">Operative</tspan><tspan x="1847" dy="13.8">Electrician</tspan></text></g>
<g id="n3939" class="n"><rect x="1155" y="1051" width="102" height="90" rx="5"/><text x="1206" y="1086.4"><tspan class="b">Mr M Mahlangu-</tspan><tspan class="b" x="1206" dy="13.8">3939</tspan><tspan x="1206" dy="13.8">Team Leader</tspan></text></g>
<g id="n2327" class="n"><rect x="1278" y="1051" width="103" height="90" rx="5"/><text x="1329.5" y="1079.5"><tspan class="b">Mr AJ</tspan><tspan class="b" x="1329.5" dy="13.8">Koekemoer-</tspan><tspan class="b" x="1329.5" dy="13.8">2327</tspan><tspan x="1329.5" dy="13.8">Fitter</tspan></text></g>
<g id="n2721" class="n"><rect x="1504" y="1051" width="81" height="90" rx="5"/><text x="1544.5" y="1079.5"><tspan class="b">Mr S Khoza-</tspan><tspan class="b" x="1544.5" dy="13.8">2721</tspan><tspan x="1544.5" dy="13.8">Engineering</tspan><tspan x="1544.5" dy="13.8">Assistant</tspan></text></g>
<g id="n2237" class="n"><rect x="1601" y="1051" width="87" height="90" rx="5"/><text x="1644.5" y="1093.3"><tspan class="b">Vacant-2237</tspan><tspan x="1644.5" dy="13.8">Boilermaker</tspan></text></g>
<g id="n2299" class="n"><rect x="1702" y="1051" width="88" height="90" rx="5"/><text x="1746" y="1079.5"><tspan class="b">Mr L Brown-</tspan><tspan class="b" x="1746" dy="13.8">2299</tspan><tspan x="1746" dy="13.8">Electrician -</tspan><tspan x="1746" dy="13.8">Underground</tspan></text></g>
<g id="n3637" class="n"><rect x="1805" y="1051" width="84" height="90" rx="5"/><text x="1847" y="1086.4"><tspan class="b">Vacant-3637</tspan><tspan x="1847" dy="13.8">Engineering</tspan><tspan x="1847" dy="13.8">Assistant</tspan></text></g>
<g id="n3940" class="n"><rect x="1155" y="1157" width="102" height="90" rx="5"/><text x="1206" y="1192.4"><tspan class="b">Mr TT Malakane-</tspan><tspan class="b" x="1206" dy="13.8">3940</tspan><tspan x="1206" dy="13.8">Team Leader</tspan></text></g>
<g id="n2558" class="n"><rect x="1278" y="1157" width="103" height="90" rx="5"/><text x="1329.5" y="1192.4"><tspan class="b">Mr NV</tspan><tspan class="b" x="1329.5" dy="13.8">Buthelezi-2558</tspan><tspan x="1329.5" dy="13.8">Rigger</tspan></text></g>
<g id="n3231" class="n"><rect x="1504" y="1157" width="81" height="90" rx="5"/><text x="1544.5" y="1192.4"><tspan class="b">Vacant-3231</tspan><tspan x="1544.5" dy="13.8">Winze</tspan><tspan x="1544.5" dy="13.8">Attendant</tspan></text></g>
<g id="n2308" class="n"><rect x="1601" y="1157" width="87" height="90" rx="5"/><text x="1644.5" y="1185.5"><tspan class="b">Mr PH Van</tspan><tspan class="b" x="1644.5" dy="13.8">Den Bergh-</tspan><tspan class="b" x="1644.5" dy="13.8">2308</tspan><tspan x="1644.5" dy="13.8">Fitter</tspan></text></g>
<g id="n2300" class="n"><rect x="1702" y="1157" width="88" height="90" rx="5"/><text x="1746" y="1185.5"><tspan class="b">Mr L Meyers-</tspan><tspan class="b" x="1746" dy="13.8">2300</tspan><tspan x="1746" dy="13.8">Electrician -</tspan><tspan x="1746" dy="13.8">Underground</tspan></text></g>
<g id="n3976" class="n"><rect x="1805" y="1157" width="84" height="90" rx="5"/><text x="1847" y="1192.4"><tspan class="b">Vacant-3976</tspan><tspan x="1847" dy="13.8">C &amp; I</tspan><tspan x="1847" dy="13.8">Technician</tspan></text></g>
</svg>
